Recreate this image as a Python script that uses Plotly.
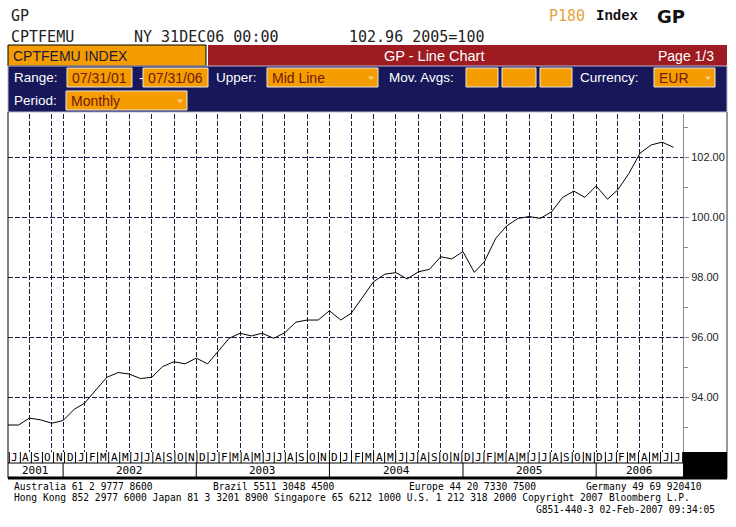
import plotly.graph_objects as go
import pandas as pd

# ---------------- data ----------------
dates = pd.date_range("2001-07-31", periods=61, freq="ME")
values = [
    93.08, 93.08, 93.31, 93.25, 93.14, 93.23,                              # 2001 Jul-Dec
    93.61, 93.81, 94.25, 94.67, 94.83, 94.78, 94.63, 94.67, 95.03, 95.19, 95.12, 95.31,  # 2002
    95.12, 95.53, 95.97, 96.14, 96.05, 96.14, 95.97, 96.16, 96.51, 96.58, 96.58, 96.89,  # 2003
    96.58, 96.81, 97.36, 97.86, 98.11, 98.16, 97.95, 98.19, 98.27, 98.69, 98.62, 98.86,  # 2004
    98.17, 98.53, 99.31, 99.72, 99.97, 100.03, 99.97, 100.19, 100.67, 100.88, 100.67, 101.05,  # 2005
    100.61, 100.92, 101.47, 102.14, 102.42, 102.51, 102.34,               # 2006 Jan-Jul
]
y_tickvals = [94, 96, 98, 100, 102]
y_ticktext = ["94.00", "96.00", "98.00", "100.00", "102.00"]
y_minor = [93, 95, 97, 99, 101, 103]
grid_dates = ["2001-09-30", "2001-11-30"] + [
    d.strftime("%Y-%m-%d") for d in pd.date_range("2001-12-31", "2006-06-30", freq="2ME")
]
year_labels = ["2001", "2002", "2003", "2004", "2005", "2006"]
year_ends = ["2001-12-31", "2002-12-31", "2003-12-31", "2004-12-31", "2005-12-31"]
month_letters = [d.strftime("%b")[0] for d in dates]
x_range = ["2001-08-02", "2006-08-26"]

# ---------------- geometry helpers (page pixels -> paper) ----------------
L, R, T, B = 8, 683, 114, 452
W, H = 736, 527


def px(X):
    return (X - L) / (R - L)


def py(Y):
    return (B - Y) / (B - T)


NAVY = "#17175a"
ORANGE = "#f59c00"
RED = "#9e1b22"
GRID = "#1c1c48"
BOXTXT = "#6e1a0e"

fig = go.Figure()
fig.add_trace(go.Scatter(x=dates, y=values, mode="lines",
                         line=dict(color="black", width=1),
                         showlegend=False, hoverinfo="skip"))
# helper trace so the uniform month-label axis exists
fig.add_trace(go.Scatter(x=[None], y=[None], xaxis="x2", showlegend=False, hoverinfo="skip"))

shapes = []
annots = []


def rect(X0, Y0, X1, Y1, fill, line=None, lw=1):
    shapes.append(dict(type="rect", xref="paper", yref="paper",
                       x0=px(X0), x1=px(X1), y0=py(Y1), y1=py(Y0),
                       fillcolor=fill, line=dict(color=line or fill, width=lw if line else 0),
                       layer="above"))


def hline(X0, X1, Y, color="black", w=1):
    shapes.append(dict(type="line", xref="paper", yref="paper",
                       x0=px(X0), x1=px(X1), y0=py(Y), y1=py(Y),
                       line=dict(color=color, width=w)))


def vline(X, Y0, Y1, color="black", w=1):
    shapes.append(dict(type="line", xref="paper", yref="paper",
                       x0=px(X), x1=px(X), y0=py(Y0), y1=py(Y1),
                       line=dict(color=color, width=w)))


def text(t, X, Y, size=14, color="white", family="Liberation Sans", anchor="left",
         bold=False, pad=1):
    if bold:
        t = "<b>" + t + "</b>"
    annots.append(dict(text=t, xref="paper", yref="paper", x=px(X), y=py(Y),
                       xanchor=anchor, yanchor="middle", showarrow=False, borderpad=pad,
                       font=dict(size=size, color=color, family=family)))


def arrow(X, Y):
    shapes.append(dict(type="path", xref="paper", yref="paper",
                       path=f"M {px(X-3)} {py(Y-1.5)} L {px(X+3)} {py(Y-1.5)} L {px(X)} {py(Y+2)} Z",
                       fillcolor="#f7cf95", line=dict(width=0)))


MONO = "DejaVu Sans Mono"

# ---------------- header ----------------
text("GP", 9, 16, 15, "#222", MONO)
text("CPTFEMU", 9, 37, 15, "#222", MONO)
text("NY 31DEC06 00:00", 132, 37, 15, "#222", MONO)
text("102.96 2005=100", 347, 37, 15, "#222", MONO)
text("P180", 547, 16, 15, "#e6a23c", MONO)
text("Index", 594, 16, 14, "#111", "Liberation Mono", bold=True)
text("GP", 655, 16, 18, "#111", "DejaVu Sans", bold=True)

# title bar
rect(208, 45, 727, 66, RED)
rect(8, 45, 206, 66, ORANGE, "black", 1)
text("CPTFEMU INDEX", 11, 56, 14, "#1a1a3a")
text("GP - Line Chart", 434, 56, 14.5, "white", anchor="center")
text("Page 1/3", 716, 56, 14, "white", anchor="right")

# navy control panel
rect(8, 66, 727, 112, NAVY, "#b8b8c8", 1)
text("Range:", 12, 78, 13.5)
text("-", 137, 78, 13.5)
text("Upper:", 214, 78, 13.5)
text("Mov. Avgs:", 387, 78, 13.5)
text("Currency:", 578, 78, 13.5)
text("Period:", 12, 101, 13.5)

for (x0, x1, lab, arr) in [(67, 132, "07/31/01", False), (143, 208, "07/31/06", False),
                           (267, 378, "Mid Line", True), (466, 498, "", False),
                           (502, 536, "", False), (540, 572, "", False),
                           (654, 715, "EUR", True)]:
    rect(x0, 68, x1, 87, ORANGE, "#e8e8e8", 1)
    if lab:
        text(lab, x0 + 3, 78, 14, BOXTXT)
    if arr:
        arrow(x1 - 7, 78)
rect(66, 91, 187, 110, ORANGE, "#e8e8e8", 1)
text("Monthly", 69, 101, 14, BOXTXT)
arrow(180, 101)

# ---------------- frame around chart & label rows ----------------
vline(8, 112, 478)
vline(727, 112, 478, "#333")
rect(683, 452, 727, 478, "black")
hline(8, 683, 463)
hline(8, 727, 478, "black", 3)

# month label row on a uniform axis (x2)
for i, m in enumerate(month_letters):
    annots.append(dict(text=m, xref="x2", yref="paper", x=i, y=py(457.5),
                       xanchor="center", yanchor="middle", showarrow=False, borderpad=0,
                       font=dict(size=11, color="black", family=MONO)))
for i in range(len(month_letters) + 1):
    shapes.append(dict(type="line", xref="x2", yref="paper", x0=i - 0.5, x1=i - 0.5,
                       y0=py(452), y1=py(463), line=dict(color="black", width=1)))

# year row on the date axis
bounds = [pd.Timestamp(x_range[0])] + [pd.Timestamp(d) for d in year_ends] + [pd.Timestamp(x_range[1])]
for k, yl in enumerate(year_labels):
    mid = bounds[k] + (bounds[k + 1] - bounds[k]) / 2
    annots.append(dict(text=yl, xref="x", yref="paper", x=mid.strftime("%Y-%m-%d"), y=py(470.5),
                       xanchor="center", yanchor="middle", showarrow=False, borderpad=0,
                       font=dict(size=11, color="black", family=MONO)))
for d in year_ends:
    shapes.append(dict(type="line", xref="x", yref="paper", x0=d, x1=d,
                       y0=py(463), y1=py(478), line=dict(color="black", width=1)))

# ---------------- footer ----------------
FS = 9.6
text("Australia 61 2 9777 8600", 13, 486, FS, "black", MONO, pad=0)
text("Brazil 5511 3048 4500", 212, 486, FS, "black", MONO, pad=0)
text("Europe 44 20 7330 7500", 408, 486, FS, "black", MONO, pad=0)
text("Germany 49 69 920410", 585, 486, FS, "black", MONO, pad=0)
text("Hong Kong 852 2977 6000 Japan 81 3 3201 8900 Singapore 65 6212 1000 "
     "U.S. 1 212 318 2000 Copyright 2007 Bloomberg L.P.", 13, 497.5, FS, "black", MONO, pad=0)
text("G851-440-3 02-Feb-2007 09:34:05", 716, 509, FS, "black", MONO, anchor="right", pad=0)

fig.update_layout(
    width=W, height=H, autosize=False,
    margin=dict(l=L, r=W - R, t=T, b=H - B, pad=0),
    paper_bgcolor="white", plot_bgcolor="white",
    showlegend=False,
    shapes=shapes, annotations=annots,
    xaxis=dict(type="date", range=x_range, autorange=False,
               tickmode="array", tickvals=grid_dates, showticklabels=False, ticks="",
               showgrid=True, gridcolor=GRID, gridwidth=1, griddash="5px,2px",
               showline=False, zeroline=False, fixedrange=True),
    xaxis2=dict(overlaying="x", range=[-0.621, 60.532], autorange=False, visible=False,
                fixedrange=True),
    yaxis=dict(range=[92.18, 103.45], autorange=False, side="right",
               tickmode="array", tickvals=y_tickvals, ticktext=y_ticktext,
               ticks="outside", ticklen=5, tickcolor="#888", tickwidth=1,
               tickfont=dict(size=11, color="#222", family="Liberation Sans"),
               showline=True, linecolor="#8a8a8a", linewidth=1, mirror=False,
               showgrid=True, gridcolor=GRID, gridwidth=1, griddash="5px,2px",
               zeroline=False, fixedrange=True,
               minor=dict(tickmode="array", tickvals=y_minor, ticks="outside",
                          ticklen=4, tickcolor="#888", showgrid=False)),
)

fig.write_html("out.html")
